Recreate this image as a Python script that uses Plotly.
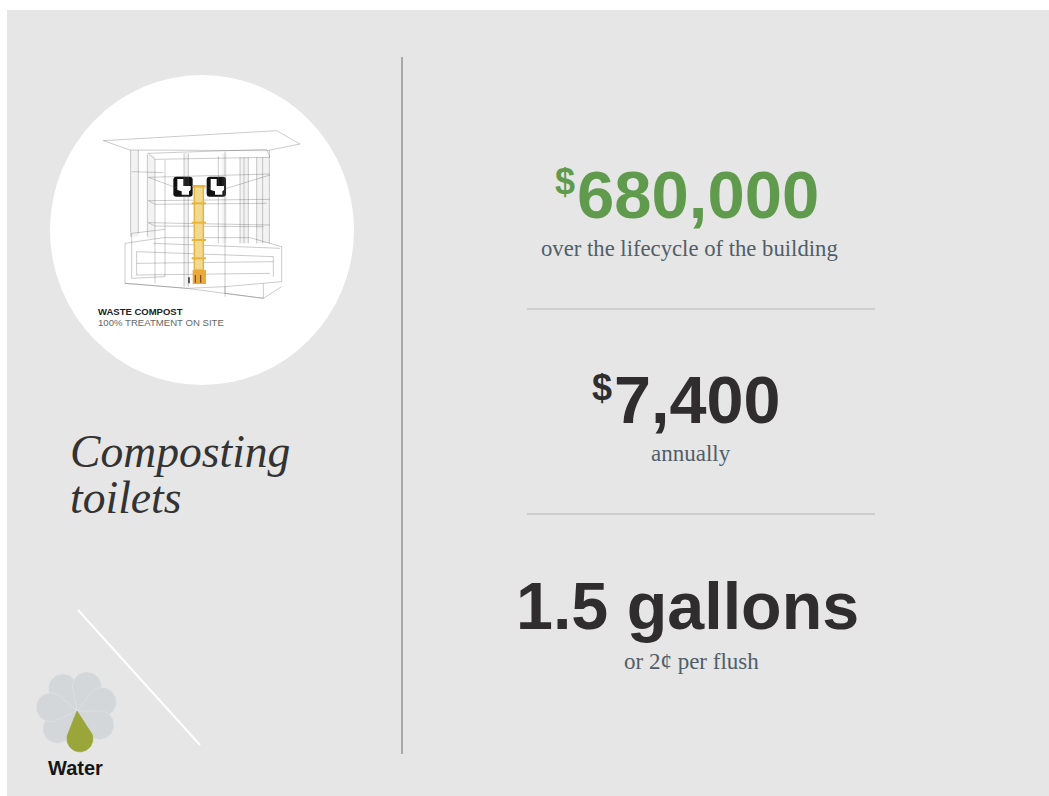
import math
import plotly.graph_objects as go

W, H = 1049, 796
PANEL = "#e6e6e6"
GREEN = "#609b4d"
DARK = "#2f2d2e"
SLATE = "#505e68"

# Text content
headline_values = ["680,000", "7,400", "1.5 gallons"]
headline_notes = ["over the lifecycle of the building", "annually", "or 2¢ per flush"]
title_lines = ["Composting", "toilets"]
badge_label = "Water"
diagram_caption = ["WASTE COMPOST", "100% TREATMENT ON SITE"]

# Rosette: petal directions in degrees clockwise from "up"
grey_petal_angles = [-32, 22, 70, 122, 228, 278]
green_petal_angle = 174

# Wireframe polylines, in units of the magnified diagram
wire_paths = [
    [(190, 212), (710, 182), (780, 222), (680, 242), (270, 240), (190, 212)],
    [(325, 250), (680, 238), (690, 262), (345, 268), (325, 250)],
    [(272, 240), (272, 500)], [(295, 240), (295, 490)], [(322, 250), (322, 500)],
    [(345, 268), (345, 640)], [(375, 270), (375, 620)], [(432, 250), (432, 650)],
    [(445, 250), (445, 650)], [(555, 245), (555, 680)], [(535, 258), (535, 520)],
    [(600, 262), (600, 520)], [(612, 262), (612, 520)], [(625, 262), (625, 520)],
    [(650, 262), (650, 520)], [(668, 262), (668, 520)], [(688, 240), (688, 520)],
    [(275, 305), (370, 308)], [(325, 322), (400, 350)], [(325, 322), (690, 312)],
    [(690, 315), (560, 355)], [(400, 352), (560, 355)],
    [(325, 392), (690, 388)], [(345, 403), (680, 400)], [(325, 392), (345, 403)],
    [(325, 458), (690, 465)], [(345, 468), (670, 470)], [(325, 458), (345, 468)],
    [(255, 520), (370, 503), (630, 503), (725, 530), (725, 635), (555, 650), (440, 655), (255, 640), (255, 520)],
    [(275, 490), (375, 478)], [(275, 490), (275, 625), (375, 620)],
    [(290, 545), (700, 560)], [(290, 580), (700, 575)], [(290, 615), (690, 610)],
    [(290, 545), (290, 615)], [(700, 560), (700, 620)], [(340, 520), (720, 535)],
    [(255, 640), (440, 655), (670, 685), (725, 650)], [(555, 650), (555, 670), (670, 685), (670, 640)],
]
wire_bands = [(272, 295, 240, 500), (322, 345, 255, 505), (432, 445, 250, 650),
              (545, 560, 250, 520), (600, 625, 262, 520), (650, 688, 262, 520)]
pipe_levels = [400, 458, 510, 565]
toilet_lefts = [400, 500]
toilet_glyph = [(12, 7), (30, 7), (30, 28), (52, 28), (52, 40), (47, 44), (47, 54),
                (25, 54), (25, 44), (12, 40), (12, 7)]


def zx(v):
    return v / 3 + 40


def zy(v):
    return v / 3 + 70


def poly(points, fill=None, line=None, width=0, opacity=1.0):
    return go.Scatter(
        x=[zx(p[0]) for p in points], y=[zy(p[1]) for p in points],
        mode="lines", fill="toself" if fill else "none", fillcolor=fill,
        line=dict(color=line or "rgba(0,0,0,0)", width=width),
        opacity=opacity, hoverinfo="skip", showlegend=False,
    )


def petal(angle, reach, radius, color, edge):
    """Teardrop: tangents from the rosette centre to a round lobe."""
    cx, cy = 77, 711
    a = math.radians(angle)
    ux, uy = math.sin(a), -math.cos(a)
    vx, vy = -uy, ux
    d = reach - radius
    half = math.acos(radius / d)
    xs, ys = [cx], [cy]
    for i in range(37):
        th = -(math.pi - half) + i / 36 * 2 * (math.pi - half)
        along = d + radius * math.cos(th)
        across = radius * math.sin(th)
        xs.append(cx + ux * along + vx * across)
        ys.append(cy + uy * along + vy * across)
    xs.append(cx)
    ys.append(cy)
    return go.Scatter(x=xs, y=ys, mode="lines", fill="toself", fillcolor=color,
                      line=dict(color=edge, width=0.7), hoverinfo="skip", showlegend=False)


fig = go.Figure()

for x0, x1, y0, y1 in wire_bands:
    fig.add_trace(poly([(x0, y0), (x1, y0), (x1, y1), (x0, y1), (x0, y0)], fill="rgba(150,150,150,0.11)"))
for path in wire_paths:
    fig.add_trace(poly(path, line="rgba(90,90,90,0.45)", width=0.7))

fig.add_trace(poly([(463, 350), (490, 350), (490, 600), (463, 600), (463, 350)],
                   fill="#f1d98f", line="#e6b540", width=1.5))
fig.add_trace(poly([(458, 348), (497, 348)], line="#e6b540", width=2))
for lvl in pipe_levels:
    fig.add_trace(poly([(455, lvl), (498, lvl)], line="#e6b540", width=2))
fig.add_trace(poly([(458, 600), (498, 600), (498, 642), (458, 642), (458, 600)], fill="#eba93a"))
fig.add_trace(poly([(447, 622), (447, 640)], line="#222222", width=1.4))
for px in [466, 482]:
    fig.add_trace(poly([(px, 615), (px, 638)], line="#7a4a1e", width=1.2))

for left in toilet_lefts:
    fig.add_trace(poly([(left + gx, 320 + gy) for gx, gy in toilet_glyph], fill="#ffffff"))

shapes = [
    dict(type="rect", x0=7, x1=W, y0=10, y1=H, fillcolor=PANEL, line_width=0, layer="below"),
    dict(type="circle", x0=50, x1=354, y0=75, y1=385, fillcolor="#ffffff", line_width=0, layer="below"),
    dict(type="line", x0=402, x1=402, y0=57, y1=754, line=dict(color="#a9a9a9", width=2)),
    dict(type="line", x0=527, x1=875, y0=309, y1=309, line=dict(color="#c6c6c6", width=1.5)),
    dict(type="line", x0=527, x1=875, y0=514, y1=514, line=dict(color="#c6c6c6", width=1.5)),
    dict(type="line", x0=78, x1=200, y0=610, y1=745, line=dict(color="#ffffff", width=2)),
]
for left in toilet_lefts:
    x0, x1, y0, y1 = zx(left), zx(left + 58), zy(320), zy(380)
    r = 3
    shapes.append(dict(
        type="path",
        path=f"M{x0+r},{y0} L{x1-r},{y0} Q{x1},{y0} {x1},{y0+r} L{x1},{y1-r} Q{x1},{y1} {x1-r},{y1} "
             f"L{x0+r},{y1} Q{x0},{y1} {x0},{y1-r} L{x0},{y0+r} Q{x0},{y0} {x0+r},{y0} Z",
        fillcolor="#111111", line_width=0, layer="below"))

for ang in grey_petal_angles:
    fig.add_trace(petal(ang, 41, 14.5, "#d4d7da", "#e0e2e4"))
fig.add_trace(petal(green_petal_angle, 41, 13, "#9aa63a", "#9aa63a"))

SANS = "Liberation Sans"
SERIF = "Liberation Serif"


def label(x, y, text, size, color, family=SANS, anchor="left"):
    return dict(x=x, y=y, text=text, showarrow=False, xanchor=anchor, yanchor="middle",
                font=dict(family=family, size=size, color=color), xref="x", yref="y",
                borderpad=0, borderwidth=0)


annotations = [
    label(555, 181, "<b>$</b>", 36, GREEN),
    label(577, 194, f"<b>{headline_values[0]}</b>", 67, GREEN),
    label(689.5, 248, headline_notes[0], 22.7, SLATE, SERIF, "center"),
    label(592, 387, "<b>$</b>", 36, DARK),
    label(614, 400, f"<b>{headline_values[1]}</b>", 66.5, DARK),
    label(691, 453, headline_notes[1], 23, SLATE, SERIF, "center"),
    label(516, 606, f"<b>{headline_values[2]}</b>", 66.4, DARK),
    label(691, 661, headline_notes[2], 23, SLATE, SERIF, "center"),
    label(70, 451, f"<i>{title_lines[0]}</i>", 45.6, "#333333", SERIF),
    label(70, 497, f"<i>{title_lines[1]}</i>", 45.6, "#333333", SERIF),
    label(75, 768, f"<b>{badge_label}</b>", 20, "#161616", SANS, "center"),
    label(98, 311, f"<b>{diagram_caption[0]}</b>", 9.5, "#222222"),
    label(98, 322, diagram_caption[1], 9.6, "#666666"),
]

fig.update_layout(
    width=W, height=H, margin=dict(l=0, r=0, t=0, b=0),
    paper_bgcolor="#ffffff", plot_bgcolor="rgba(0,0,0,0)",
    xaxis=dict(range=[0, W], visible=False, fixedrange=True),
    yaxis=dict(range=[H, 0], visible=False, fixedrange=True),
    shapes=shapes, annotations=annotations, showlegend=False, hovermode=False,
)
fig.write_html("out.html", config={"displayModeBar": False},
               post_script="document.body.style.margin='0';")
